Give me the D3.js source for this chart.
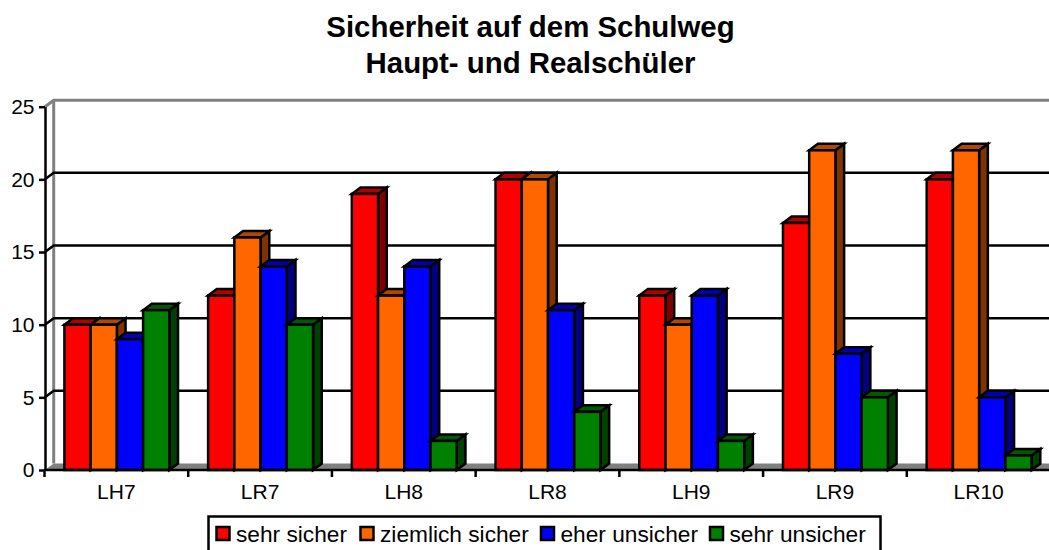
<!DOCTYPE html>
<html>
<head>
<meta charset="utf-8">
<style>
  html, body { margin: 0; padding: 0; background: #fff; overflow: hidden; }
  svg { display: block; font-family: "Liberation Sans", Arial, sans-serif; }
</style>
<script src="https://cdn.jsdelivr.net/npm/d3@7"></script>
</head>
<body>
<div id="chart"></div>
<script>
var categories = [ 'LH7', 'LR7', 'LH8', 'LR8', 'LH9', 'LR9', 'LR10' ];
var seriesNames = [ 'sehr sicher', 'ziemlich sicher', 'eher unsicher', 'sehr unsicher' ];
var sehrSicher = [ 10, 12, 19, 20, 12, 17, 20 ];
var ziemlichSicher = [ 10, 16, 12, 20, 10, 22, 22 ];
var eherUnsicher = [ 9, 14, 14, 11, 12, 8, 5 ];
var sehrUnsicher = [ 11, 10, 2, 4, 2, 5, 1 ];
var yTicks = [ 0, 5, 10, 15, 20, 25 ];
var titleLines = [ 'Sicherheit auf dem Schulweg', 'Haupt- und Realschüler' ];

var seriesValues = [ sehrSicher, ziemlichSicher, eherUnsicher, sehrUnsicher ];

var COLORS = {
	front: [ '#ff0000', '#ff6600', '#0000ff', '#008000' ],
	top:   [ '#b20000', '#b24700', '#0000b2', '#005900' ],
	side:  [ '#800000', '#7f3300', '#000080', '#004000' ],
	wall:  '#808080'
};

var width = 1049, height = 550;
var left = 45, right = 1051, bottom = 470, top_ = 106.7;
var dx = 8.7, dy = 6.5; // 3d depth of the plot
var lineW = 2.5;

var svg = d3.select( '#chart' ).append( 'svg' )
	.attr( 'width', width )
	.attr( 'height', height );

var x = d3.scaleBand()
	.domain( categories )
	.range( [ left, right ] )
	.paddingInner( 0.27 )
	.paddingOuter( 0.135 );

var x1 = d3.scaleBand()
	.domain( d3.range( seriesNames.length ) )
	.range( [ 0, x.bandwidth() ] );

var y = d3.scaleLinear().domain( [ 0, 25 ] ).range( [ bottom, top_ ] );

// Title
svg.append( 'g' ).selectAll( 'text' )
	.data( titleLines )
	.join( 'text' )
	.attr( 'x', 530.5 )
	.attr( 'y', function ( d, i ) { return 37 + i * 36; } )
	.attr( 'text-anchor', 'middle' )
	.attr( 'font-size', 29.4 )
	.attr( 'font-weight', 'bold' )
	.attr( 'fill', '#000' )
	.text( function ( d ) { return d; } );

// Back wall and floor
svg.append( 'path' )
	.attr( 'fill', COLORS.wall )
	.attr( 'stroke', 'none' )
	.attr( 'd', d3.line()( [ [ left, bottom ], [ left + dx, bottom - dy ], [ width, bottom - dy ], [ width, bottom ] ] ) + 'Z' );

svg.append( 'path' )
	.attr( 'fill', 'none' )
	.attr( 'stroke', COLORS.wall )
	.attr( 'stroke-width', 3 )
	.attr( 'd', d3.line()( [ [ left, y( 25 ) ], [ left + dx, y( 25 ) - dy ], [ width, y( 25 ) - dy ] ] ) );

svg.append( 'line' )
	.attr( 'x1', left + dx ).attr( 'x2', left + dx )
	.attr( 'y1', y( 25 ) - dy ).attr( 'y2', bottom - dy )
	.attr( 'stroke', COLORS.wall )
	.attr( 'stroke-width', 3 );

// Gridlines with their slanted part on the side wall
var grid = yTicks.filter( function ( d ) { return d > 0 && d < 25; } );
svg.append( 'g' ).selectAll( 'path' )
	.data( grid )
	.join( 'path' )
	.attr( 'fill', 'none' )
	.attr( 'stroke', '#000' )
	.attr( 'stroke-width', lineW )
	.attr( 'd', function ( d ) {
		return d3.line()( [ [ left, y( d ) ], [ left + dx, y( d ) - dy ], [ width, y( d ) - dy ] ] );
	} );

// Bars: side and top faces first, front on top
var rows = [];
categories.forEach( function ( c, i ) {
	seriesValues.forEach( function ( vals, s ) {
		rows.push( { cat: c, s: s, v: vals[ i ] } );
	} );
} );

var bars = svg.append( 'g' ).selectAll( 'g' )
	.data( rows )
	.join( 'g' )
	.attr( 'stroke', '#000' )
	.attr( 'stroke-width', lineW )
	.attr( 'stroke-linejoin', 'miter' );

function bx( d ) { return x( d.cat ) + x1( d.s ); }

bars.append( 'path' )
	.attr( 'fill', function ( d ) { return COLORS.side[ d.s ]; } )
	.attr( 'd', function ( d ) {
		var r = bx( d ) + x1.bandwidth();
		return d3.line()( [ [ r, y( d.v ) ], [ r + dx, y( d.v ) - dy ], [ r + dx, bottom - dy ], [ r, bottom ] ] ) + 'Z';
	} );

bars.append( 'path' )
	.attr( 'fill', function ( d ) { return COLORS.top[ d.s ]; } )
	.attr( 'd', function ( d ) {
		var l = bx( d ), r = l + x1.bandwidth();
		return d3.line()( [ [ l, y( d.v ) ], [ l + dx, y( d.v ) - dy ], [ r + dx, y( d.v ) - dy ], [ r, y( d.v ) ] ] ) + 'Z';
	} );

bars.append( 'rect' )
	.attr( 'x', bx )
	.attr( 'y', function ( d ) { return y( d.v ); } )
	.attr( 'width', x1.bandwidth() )
	.attr( 'height', function ( d ) { return bottom - y( d.v ); } )
	.attr( 'fill', function ( d ) { return COLORS.front[ d.s ]; } );

// Y axis
svg.append( 'g' )
	.attr( 'transform', 'translate(' + left + ',0)' )
	.call( d3.axisLeft( y ).tickValues( yTicks ).tickSize( 6 ).tickSizeOuter( 0 ).tickPadding( 4.5 ) )
	.call( function ( s ) {
		s.attr( 'font-family', null ).attr( 'font-size', 21 );
		s.select( '.domain' ).attr( 'stroke', '#000' ).attr( 'stroke-width', lineW );
		s.selectAll( 'line' ).attr( 'stroke', '#000' ).attr( 'stroke-width', lineW );
		s.selectAll( 'text' ).attr( 'fill', '#000' );
	} );

// X axis, ticks sit between the categories
var xAxis = svg.append( 'g' )
	.attr( 'transform', 'translate(-0.5,' + bottom + ')' )
	.call( d3.axisBottom( x ).tickSize( 0 ).tickPadding( 14.5 ) )
	.call( function ( s ) {
		s.attr( 'font-family', null ).attr( 'font-size', 21 );
		s.select( '.domain' ).remove();
		s.selectAll( 'text' ).attr( 'fill', '#000' );
	} );

xAxis.append( 'line' )
	.attr( 'x1', left ).attr( 'x2', width + 1 )
	.attr( 'stroke', '#000' )
	.attr( 'stroke-width', lineW );

xAxis.selectAll( 'line.sep' )
	.data( d3.range( categories.length ) )
	.join( 'line' )
	.attr( 'class', 'sep' )
	.attr( 'x1', function ( i ) { return left + i * x.step(); } )
	.attr( 'x2', function ( i ) { return left + i * x.step(); } )
	.attr( 'y1', 0 )
	.attr( 'y2', 7 )
	.attr( 'stroke', '#000' )
	.attr( 'stroke-width', lineW );

// Legend (box runs off the bottom edge)
var legend = svg.append( 'g' );
legend.append( 'rect' )
	.attr( 'x', 208.5 ).attr( 'y', 516.5 )
	.attr( 'width', 672 ).attr( 'height', 50 )
	.attr( 'fill', '#fff' )
	.attr( 'stroke', '#000' )
	.attr( 'stroke-width', lineW );

var legendX = [ 216.5, 360.5, 541, 710 ];
var item = legend.selectAll( 'g' )
	.data( seriesNames )
	.join( 'g' )
	.attr( 'transform', function ( d, i ) { return 'translate(' + legendX[ i ] + ',527)'; } );

item.append( 'rect' )
	.attr( 'width', 13 ).attr( 'height', 13 )
	.attr( 'fill', function ( d, i ) { return COLORS.front[ i ]; } )
	.attr( 'stroke', '#000' )
	.attr( 'stroke-width', lineW );

item.append( 'text' )
	.attr( 'x', 19.5 )
	.attr( 'y', 14.5 )
	.attr( 'font-size', 22.7 )
	.attr( 'fill', '#000' )
	.text( function ( d ) { return d; } );
</script>
</body>
</html>
